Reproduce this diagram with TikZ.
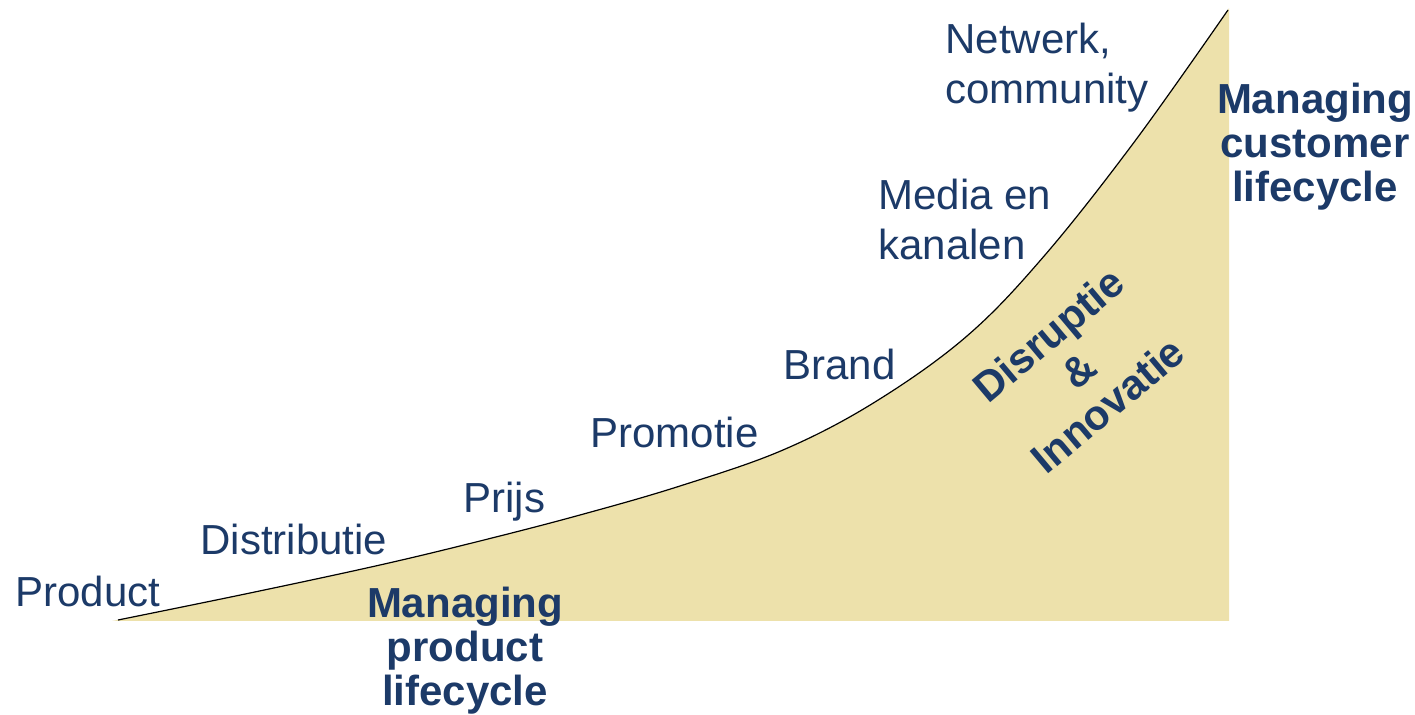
\documentclass[tikz,border=0pt]{standalone}
\usepackage{fontspec}
\setmainfont{Liberation Sans}
\definecolor{fillkhaki}{HTML}{EDE1AB}
\definecolor{navy}{HTML}{1C3A68}
\tikzset{
  lbl/.style={inner sep=0pt, text=navy, font=\fontsize{21pt}{25pt}\selectfont},
  bold/.style={inner sep=0pt, text=navy, align=center, font=\fontsize{21pt}{22pt}\selectfont\bfseries},
}
\begin{document}
\begin{tikzpicture}[x=0.5pt,y=-0.5pt]
\useasboundingbox (0,0) rectangle (1415,715);
\def\curvepts{(118,620) (250,593) (380,565) (480,541) (580,515) (680,486) (783,450) (875,402) (967,336) (1045,255) (1135,141) (1228,10)}
\fill[fillkhaki] (112,621) -- plot[smooth,tension=0.6] coordinates {\curvepts} -- (1229,8) -- (1229,621) -- cycle;
\draw[black, line width=0.6pt] plot[smooth,tension=0.6] coordinates {\curvepts};
% labels along the curve
\node[lbl, anchor=base west] (product) at (15,607) {Product};
\node[lbl, anchor=base west] (distributie) at (200,555) {Distributie};
\node[lbl, anchor=base west] (prijs) at (463,513) {Prijs};
\node[lbl, anchor=base west] (promotie) at (590,448) {Promotie};
\node[lbl, anchor=base west] (brand) at (783,380) {Brand};
\node[lbl, anchor=north west, align=left] (media) at (878,179) {Media en\\kanalen};
\node[lbl, anchor=north west, align=left] (netwerk) at (945,23) {Netwerk,\\community};
% bold labels
\node[bold, anchor=north] (mpl) at (465,587) {Managing\\product\\lifecycle};
\node[bold, anchor=north] (mcl) at (1315,83) {Managing\\customer\\lifecycle};
\node[bold, rotate=40, font=\fontsize{21pt}{23pt}\selectfont\bfseries] (disr) at (1078,370) {Disruptie\\\&\\Innovatie};
\end{tikzpicture}
\end{document}
